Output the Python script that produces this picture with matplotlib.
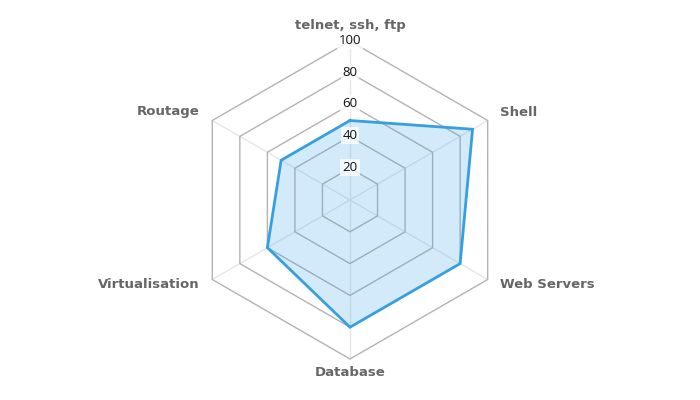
import numpy as np
import matplotlib
matplotlib.use("Agg")
import matplotlib.pyplot as plt

categories = ["telnet, ssh, ftp", "Shell", "Web Servers", "Database", "Virtualisation", "Routage"]
values = [50, 89, 80, 80, 60, 50]
ticks = [20, 40, 60, 80, 100]
rmax = 100

W, H = 700, 400
cx, cy, R = 350, 200, 159  # pixel center / radius

fig = plt.figure(figsize=(7, 4), dpi=100)
ax = fig.add_axes([0, 0, 1, 1])
s = rmax / R
ax.set_xlim(-cx * s, (W - cx) * s)
ax.set_ylim(-(H - cy) * s, cy * s)
ax.axis("off")

n = len(categories)
ang = np.pi / 2 - np.arange(n) * 2 * np.pi / n

def pts(r):
    r = np.asarray(r, dtype=float)
    return r * np.cos(ang), r * np.sin(ang)

# spokes
for a in ang:
    ax.plot([0, rmax * np.cos(a)], [0, rmax * np.sin(a)], color="#e6e6e6", lw=1, zorder=1)
# hex rings
for t in ticks:
    x, y = pts([t] * n)
    ax.plot(np.append(x, x[0]), np.append(y, y[0]), color="#b3b3b3", lw=1, zorder=1)

# data
x, y = pts(values)
ax.fill(x, y, color=(54/255, 162/255, 235/255, 0.22), zorder=2, lw=0)
ax.plot(np.append(x, x[0]), np.append(y, y[0]), color="#369fe0", lw=2, zorder=3,
        solid_joinstyle="miter")

# tick labels
for t in ticks:
    ax.text(0, t + 0.5, str(t), ha="center", va="center", fontsize=9.5,
            family="Open Sans", color="#111111", zorder=4,
            bbox=dict(boxstyle="square,pad=0.15", fc=(1, 1, 1, 0.75), ec="none"))

# category labels
lab_font = dict(family="DejaVu Sans", weight="bold", fontsize=9.5, color="#666666")
positions = [(350, 25, "center"), (500, 112, "left"), (500, 285, "left"),
             (350, 372, "center"), (200, 285, "right"), (200, 112, "right")]
for lab, (px, py, ha) in zip(categories, positions):
    ax.text((px - cx) * s, (cy - py) * s, lab, ha=ha, va="center", **lab_font)

fig.savefig("out.png", dpi=100)
